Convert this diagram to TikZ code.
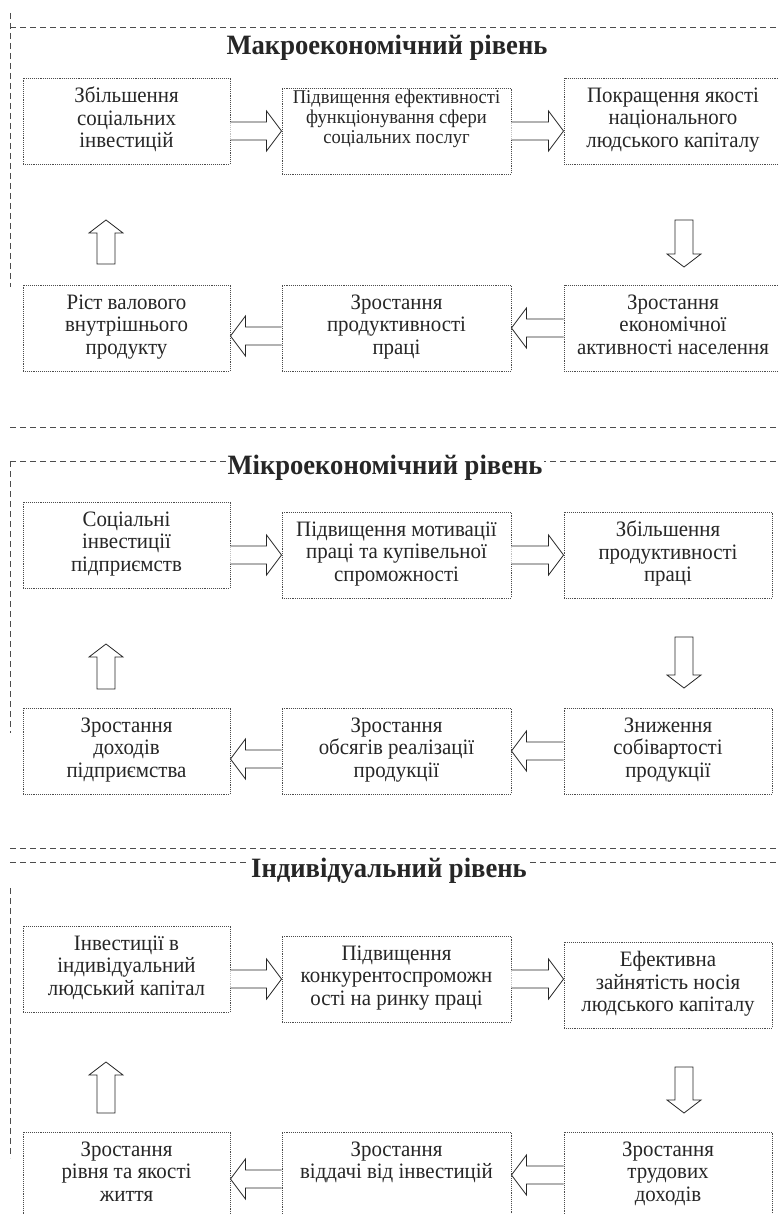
\documentclass[tikz,border=0pt]{standalone}
\usepackage{fontspec}
\setmainfont{Liberation Serif}[FakeStretch=0.95]
\usetikzlibrary{calc}

\newcommand{\arrR}[3]{\draw[blockarr] ($(#1.east |- #3)+(0,-9)$) -- ($(#2.west |- #3)+(-15,-9)$) -- ++(0,-11) -- (#2.west |- #3) -- ($(#2.west |- #3)+(-15,20)$) -- ++(0,-11) -- ($(#1.east |- #3)+(0,9)$);}
\newcommand{\arrL}[4]{\draw[blockarr] ($(#1.west |- #3)+(0,{#4-9})$) -- ($(#2.east |- #3)+(15,{#4-9})$) -- ++(0,-11) -- ($(#2.east |- #3)+(0,#4)$) -- ($(#2.east |- #3)+(15,{#4+20})$) -- ++(0,-11) -- ($(#1.west |- #3)+(0,{#4+9})$);}
\newcommand{\arrU}[2]{\draw[blockarr] ($(#1)+(-9,0)$) -- ($(#2)+(-9,13)$) -- ++(-8,0) -- (#2) -- ($(#2)+(17,13)$) -- ++(-8,0) -- ($(#1)+(9,0)$) -- cycle;}
\newcommand{\arrD}[2]{\draw[blockarr] ($(#1)+(-9,0)$) -- ($(#2)+(-9,-13)$) -- ++(-8,0) -- (#2) -- ($(#2)+(17,-13)$) -- ++(-8,0) -- ($(#1)+(9,0)$) -- cycle;}

\begin{document}
\begin{tikzpicture}[x=1pt,y=-1pt,
	box/.style={draw=black!70, densely dotted, line width=0.9pt, minimum height=86pt, inner sep=2pt, align=center, text=black!85, font=\fontsize{22}{22.5}\selectfont, execute at begin node=\rule{0pt}{18pt}, execute at end node=\rule[-7pt]{0pt}{7pt}},
	wl/.style={minimum width=207pt},
	wm/.style={minimum width=229pt},
	wr/.style={minimum width=208pt},
	ttl/.style={fill=white, inner sep=1pt, text=black!85, font=\bfseries\fontsize{28}{32}\selectfont},
	lvline/.style={black!70, line width=0.8pt, dash pattern=on 6pt off 4pt},
	blockarr/.style={black!85, line width=0.8pt, fill=white, line join=miter}]
		\useasboundingbox (0,0) rectangle (778,1214);
		\clip (0,0) rectangle (778,1214);
		% macro level
		\draw[lvline] (10,27) -- (778,27); % top
		\draw[lvline] (10,13) -- (10,287); % side left
		\node[ttl] (macT) at (387,48) {Макроекономічний рівень};
		\node[box,wl] (ma1) at (126.5,121) {Збільшення\\соціальних\\інвестицій};
		\node[box,wm,font=\fontsize{19.5}{20}\selectfont,text height=53pt,text depth=27pt] (ma2) at (396.5,131) {Підвищення ефективності\\функціонування сфери\\соціальних послуг};
		\node[box,minimum width=218pt] (ma3) at (673,121) {Покращення якості\\національного\\людського капіталу};
		\node[box,wl] (mb1) at (126.5,328) {Ріст валового\\внутрішнього\\продукту};
		\node[box,wm] (mb2) at (396.5,328) {Зростання\\продуктивності\\праці};
		\node[box,minimum width=218pt] (mb3) at (673,328) {Зростання\\економічної\\активності населення};
		\arrR{ma1}{ma2}{ma2.center}
		\arrR{ma2}{ma3}{ma2.center}
		\arrL{mb2}{mb1}{mb2.center}{8}
		\arrL{mb3}{mb2}{mb2.center}{0}
		\coordinate (mUt) at (106,264); \coordinate (mUh) at (106,220);
		\coordinate (mDt) at (684,220); \coordinate (mDh) at (684,267);
		\arrU{mUt}{mUh}
		\arrD{mDt}{mDh}
		% micro level
		\draw[lvline] (10,427) -- (778,427);
		\draw[lvline] (10,461) -- (778,461);
		\draw[lvline] (10,461) -- (10,733); % side left
		\node[ttl] (micT) at (385,468) {Мікроекономічний рівень};
		\node[box,wl] (ia1) at (126.5,545) {Соціальні\\інвестиції\\підприємств};
		\node[box,wm] (ia2) at (396.5,555) {Підвищення мотивації\\праці та купівельної\\спроможності};
		\node[box,wr] (ia3) at (668,555) {Збільшення\\продуктивності\\праці};
		\node[box,wl] (ib1) at (126.5,751) {Зростання\\доходів\\підприємства};
		\node[box,wm] (ib2) at (396.5,751) {Зростання\\обсягів реалізації\\продукції};
		\node[box,wr] (ib3) at (668,751) {Зниження\\собівартості\\продукції};
		\arrR{ia1}{ia2}{ia2.center}
		\arrR{ia2}{ia3}{ia2.center}
		\arrL{ib2}{ib1}{ib2.center}{8}
		\arrL{ib3}{ib2}{ib2.center}{0}
		\coordinate (iUt) at (106,689); \coordinate (iUh) at (106,644);
		\coordinate (iDt) at (684,637); \coordinate (iDh) at (684,688);
		\arrU{iUt}{iUh}
		\arrD{iDt}{iDh}
		% individual level
		\draw[lvline] (10,848) -- (778,848);
		\draw[lvline] (10,862) -- (778,862);
		\draw[lvline] (10,888) -- (10,1158); % side left
		\node[ttl] (indT) at (389,871) {Індивідуальний рівень};
		\node[box,wl] (na1) at (126.5,969) {Інвестиції в\\індивідуальний\\людський капітал};
		\node[box,wm] (na2) at (396.5,979) {Підвищення\\конкурентоспроможн\\ості на ринку праці};
		\node[box,wr] (na3) at (668,985) {Ефективна\\зайнятість носія\\людського капіталу};
		\node[box,wl] (nb1) at (126.5,1175) {Зростання\\рівня та якості\\життя};
		\node[box,wm] (nb2) at (396.5,1175) {Зростання\\віддачі від інвестицій\\};
		\node[box,wr] (nb3) at (668,1175) {Зростання\\трудових\\доходів};
		\arrR{na1}{na2}{na2.center}
		\arrR{na2}{na3}{na2.center}
		\arrL{nb2}{nb1}{nb2.center}{4}
		\arrL{nb3}{nb2}{nb2.center}{0}
		\coordinate (nUt) at (106,1113); \coordinate (nUh) at (106,1062);
		\coordinate (nDt) at (684,1067); \coordinate (nDh) at (684,1113);
		\arrU{nUt}{nUh}
		\arrD{nDt}{nDh}
\end{tikzpicture}
\end{document}
